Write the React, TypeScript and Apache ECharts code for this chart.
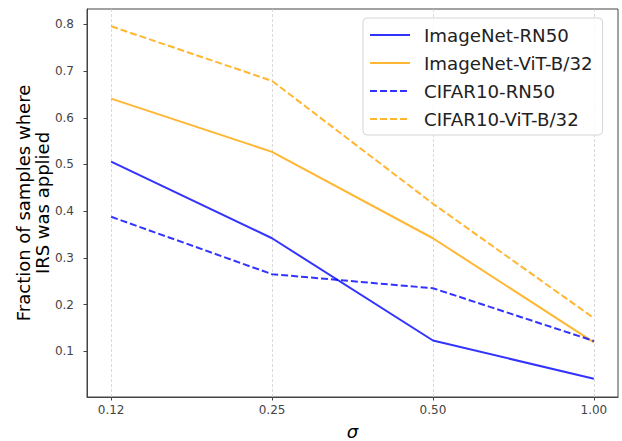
import React, { useEffect, useRef } from "react";
import * as echarts from "echarts";

const sigmaLabels = ["0.12", "0.25", "0.50", "1.00"];
const yTicks = [0.1, 0.2, 0.3, 0.4, 0.5, 0.6, 0.7, 0.8];

const imagenetRN50 = [0.506, 0.342, 0.123, 0.041];
const imagenetViT = [0.641, 0.527, 0.342, 0.119];
const cifarRN50 = [0.388, 0.265, 0.235, 0.122];
const cifarViT = [0.796, 0.679, 0.416, 0.171];

const seriesNames = ["ImageNet-RN50", "ImageNet-ViT-B/32", "CIFAR10-RN50", "CIFAR10-ViT-B/32"];
const seriesValues = [imagenetRN50, imagenetViT, cifarRN50, cifarViT];
const seriesColors = ["rgba(0,0,255,0.8)", "rgba(255,165,0,0.8)", "rgba(0,0,255,0.8)", "rgba(255,165,0,0.8)"];
const seriesDashed = [false, false, true, true];

const FONT = "DejaVu Sans";

export default function App() {
  const ref = useRef<HTMLDivElement>(null);
  useEffect(() => {
    document.body.style.margin = "0";
    if (!ref.current) return;
    const chart = echarts.init(ref.current, undefined, { renderer: "svg" });
    const xIdx = sigmaLabels.map((_, i) => i);
    chart.setOption({
      animation: false,
      backgroundColor: "#fff",
      grid: {
        left: 87,
        top: 9,
        right: 4,
        bottom: 44,
        outerBoundsMode: "none",
        containLabel: false,
        show: true,
        borderColor: "#444",
        borderWidth: 1,
        backgroundColor: "transparent",
      },
      legend: {
        orient: "vertical",
        left: 363,
        top: 18,
        padding: [7, 10, 6, 6],
        itemWidth: 40,
        itemHeight: 14,
        itemGap: 8,
        backgroundColor: "rgba(255,255,255,0.8)",
        borderColor: "#d5d5d5",
        borderWidth: 1,
        borderRadius: 4,
        itemStyle: { opacity: 0 },
        textStyle: {
          fontFamily: FONT,
          fontSize: 18.2,
          color: "#222",
          lineHeight: 20,
          padding: [0, 0, 0, 9],
        },
        data: seriesNames,
      },
      xAxis: {
        type: "value",
        min: -0.15,
        max: 3.15,
        name: "σ",
        nameLocation: "middle",
        nameGap: 25,
        nameMoveOverlap: false,
        nameTextStyle: { fontFamily: FONT, fontSize: 18, fontStyle: "italic", color: "#000" },
        axisLine: { show: true, onZero: false, lineStyle: { color: "#444", width: 1 } },
        axisTick: { show: true, length: 3.5, customValues: xIdx, lineStyle: { color: "#444" } },
        axisLabel: {
          customValues: xIdx,
          formatter: (v: number) => sigmaLabels[Math.round(v)] ?? "",
          fontFamily: FONT,
          fontSize: 12,
          color: "#444",
          margin: 7,
        },
        splitLine: { show: true, lineStyle: { color: "#d0d0d0", width: 0.8, type: [3, 2] } },
      },
      yAxis: {
        type: "value",
        min: 0.002,
        max: 0.833,
        name: "Fraction of samples where\nIRS was applied",
        nameLocation: "middle",
        nameGap: 35,
        nameMoveOverlap: false,
        nameTextStyle: { fontFamily: FONT, fontSize: 18, color: "#000", lineHeight: 19 },
        axisLine: { show: true, onZero: false, lineStyle: { color: "#444", width: 1 } },
        axisTick: { show: true, length: 3.5, customValues: yTicks, lineStyle: { color: "#444" } },
        axisLabel: {
          customValues: yTicks,
          formatter: (v: number) => v.toFixed(1),
          fontFamily: FONT,
          fontSize: 12,
          color: "#444",
          margin: 13,
        },
        splitLine: { show: false },
      },
      series: seriesNames.map((name, s) => ({
        name,
        type: "line",
        symbol: "none",
        data: seriesValues[s].map((v, i) => [i, v]),
        lineStyle: {
          color: seriesColors[s],
          width: 2,
          type: seriesDashed[s] ? [7, 3] : "solid",
        },
        itemStyle: { color: seriesColors[s] },
      })),
    });
    return () => chart.dispose();
  }, []);
  return <div ref={ref} style={{ width: 622, height: 441 }} />;
}
